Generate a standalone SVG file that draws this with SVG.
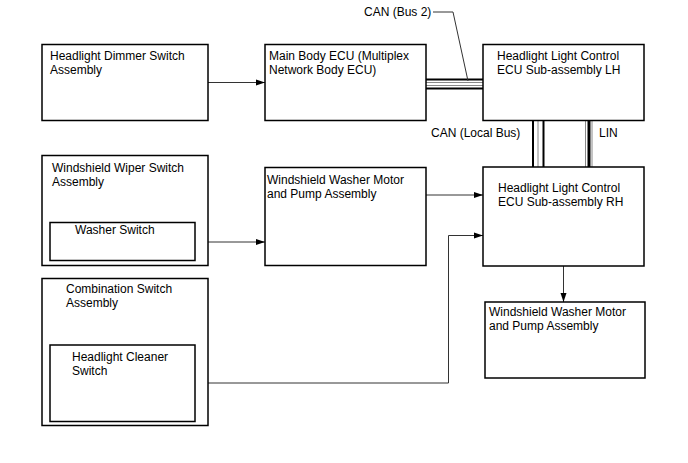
<svg xmlns="http://www.w3.org/2000/svg" width="688" height="463" viewBox="0 0 688 463">
<style>
.box{fill:#fff;stroke:#000;stroke-width:1.5}
.t{font-family:"Liberation Sans",Arial,sans-serif;font-size:12px;fill:#000}
.c{fill:none;stroke:#333;stroke-width:1}
.bk{stroke:#000;stroke-width:2;fill:none}
.gy{stroke:#888;stroke-width:1;fill:none}
</style>
<defs>
<marker id="ah" markerUnits="userSpaceOnUse" markerWidth="9" markerHeight="7" refX="9" refY="3.5" orient="auto">
<path d="M0,0.5 L9,3.5 L0,6.5 z" fill="#000"/>
</marker>
</defs>
<rect width="688" height="463" fill="#fff"/>
<g id="connectors">
<line class="c" x1="208" y1="82.5" x2="265" y2="82.5" marker-end="url(#ah)"/>
<line class="c" x1="195" y1="242" x2="265" y2="242" marker-end="url(#ah)"/>
<line class="c" x1="426" y1="195" x2="483" y2="195" marker-end="url(#ah)"/>
<polyline class="c" points="195,383 448.5,383 448.5,235.5 483,235.5" marker-end="url(#ah)"/>
<line class="c" x1="563.5" y1="266" x2="563.5" y2="302" marker-end="url(#ah)"/>
<g id="can-bus2">
<line class="bk" x1="426" y1="79.5" x2="483" y2="79.5"/>
<line class="gy" x1="426" y1="82.5" x2="483" y2="82.5"/>
<line class="gy" x1="426" y1="85.5" x2="483" y2="85.5"/>
<line class="bk" x1="426" y1="88.5" x2="483" y2="88.5"/>
<polyline class="c" points="433,12 453,12 468,81"/>
</g>
<g id="can-local">
<line class="bk" x1="533" y1="120" x2="533" y2="167"/>
<line class="gy" x1="538" y1="120" x2="538" y2="167"/>
<line class="bk" x1="543.5" y1="120" x2="543.5" y2="167"/>
</g>
<g id="lin">
<line class="gy" x1="585.5" y1="120" x2="585.5" y2="167"/>
<line stroke="#000" stroke-width="3" x1="589" y1="120" x2="589" y2="167"/>
<line class="gy" x1="592" y1="120" x2="592" y2="167"/>
</g>
</g>
<g id="dimmer">
<rect class="box" x="42" y="44.5" width="166" height="76"/>
<text class="t" x="50" y="60">Headlight Dimmer Switch</text>
<text class="t" x="50" y="74">Assembly</text>
</g>
<g id="main-body-ecu">
<rect class="box" x="265" y="44.5" width="161" height="76"/>
<text class="t" x="269" y="60">Main Body ECU (Multiplex</text>
<text class="t" x="269" y="74">Network Body ECU)</text>
</g>
<g id="lh">
<rect class="box" x="483" y="44.5" width="161" height="76"/>
<text class="t" x="497" y="60">Headlight Light Control</text>
<text class="t" x="497" y="74">ECU Sub-assembly LH</text>
</g>
<g id="wiper">
<rect class="box" x="42" y="155.5" width="166" height="110"/>
<text class="t" x="52" y="172">Windshield Wiper Switch</text>
<text class="t" x="52" y="186">Assembly</text>
</g>
<g id="washer-switch">
<rect class="box" x="50" y="222.5" width="145" height="38"/>
<text class="t" x="75" y="234">Washer Switch</text>
</g>
<g id="motor-mid">
<rect class="box" x="265" y="167.5" width="161" height="98"/>
<text class="t" x="267" y="184">Windshield Washer Motor</text>
<text class="t" x="267" y="198">and Pump Assembly</text>
</g>
<g id="rh">
<rect class="box" x="483" y="167" width="161" height="99"/>
<text class="t" x="498" y="192">Headlight Light Control</text>
<text class="t" x="498" y="206">ECU Sub-assembly RH</text>
</g>
<g id="combination">
<rect class="box" x="42" y="278.5" width="166" height="147"/>
<text class="t" x="66" y="293">Combination Switch</text>
<text class="t" x="66" y="307">Assembly</text>
</g>
<g id="cleaner">
<rect class="box" x="50" y="345" width="145" height="76.5"/>
<text class="t" x="72" y="361">Headlight Cleaner</text>
<text class="t" x="72" y="375">Switch</text>
</g>
<g id="motor-bottom">
<rect class="box" x="485" y="302" width="160" height="76"/>
<text class="t" x="489" y="316">Windshield Washer Motor</text>
<text class="t" x="489" y="330">and Pump Assembly</text>
</g>
<g id="labels">
<text class="t" x="364" y="16">CAN (Bus 2)</text>
<text class="t" x="431" y="137">CAN (Local Bus)</text>
<text class="t" x="599" y="137">LIN</text>
</g>
</svg>
